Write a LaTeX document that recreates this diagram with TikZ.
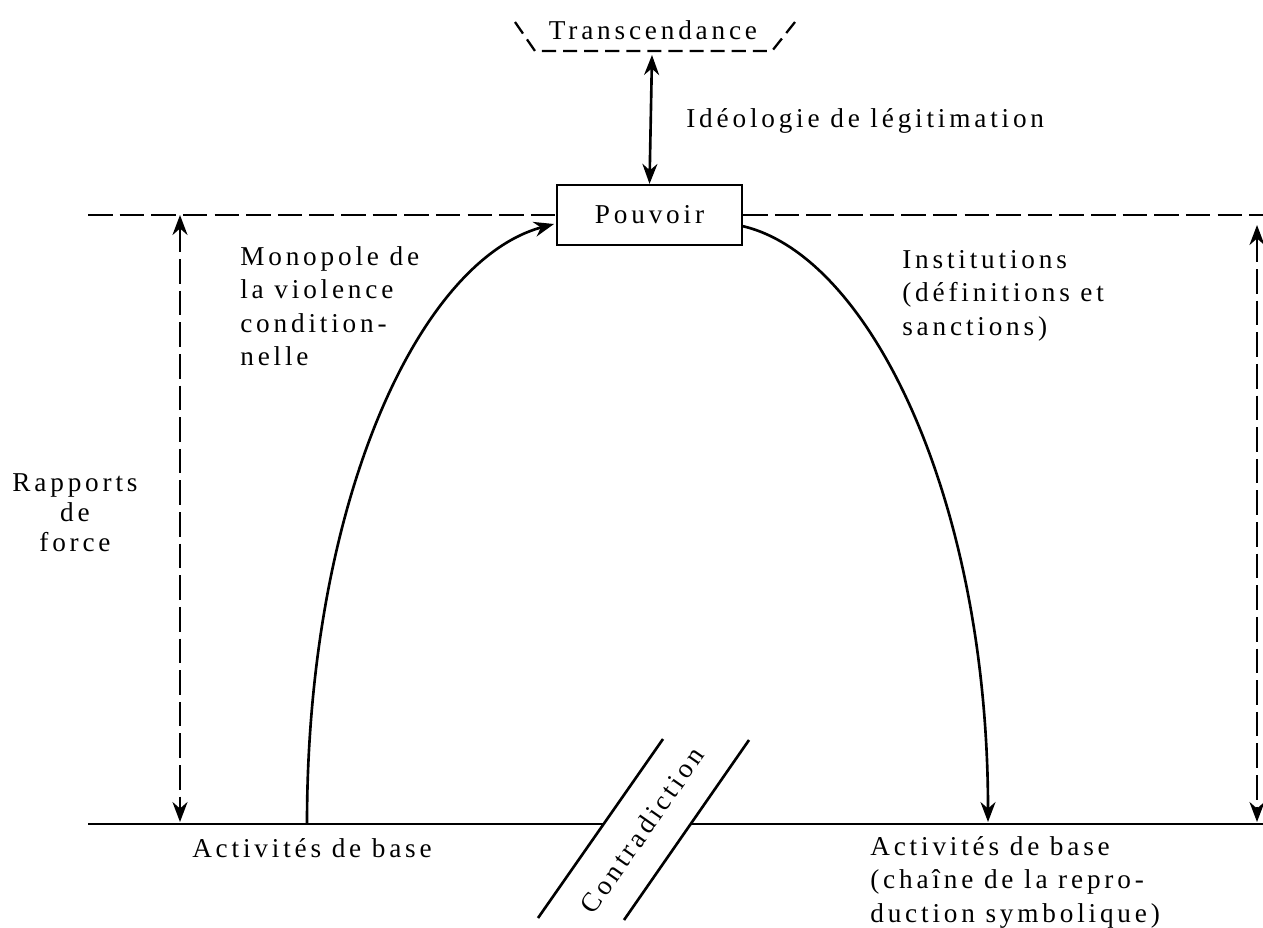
\documentclass[tikz,border=0pt]{standalone}
\usepackage{fontspec}
\setmainfont{Liberation Serif}[LetterSpace=14]
\usetikzlibrary{arrows.meta, positioning, calc}

\tikzset{
  lbl/.style={font=\fontsize{15.5}{19}\selectfont, inner sep=0pt},
  pbox/.style={draw, line width=1.3pt, minimum width=3.7cm, minimum height=1.2cm, inner sep=0pt},
  arr/.style={line width=1.5pt, -{Stealth[length=4mm,width=3mm]}},
  darr/.style={line width=1.5pt, {Stealth[length=4mm,width=3mm]}-{Stealth[length=4mm,width=3mm]}},
  dashline/.style={line width=1.3pt, dash pattern=on 14pt off 4pt},
}

\begin{document}
\begin{tikzpicture}[x=0.02cm, y=-0.02cm]

      \useasboundingbox (0,0) rectangle (1263,927);

      % sommet
      \node[lbl] (trans) at (653,30) {Transcendance};
      \draw[line width=1.3pt, dash pattern=on 8pt off 4pt] (515,22) -- (535,51) -- (772,51) -- (795,22);
      \coordinate (tb) at (652,55);

      \node[pbox, lbl] (pouvoir) at (649.5,215) {Pouvoir};
      \draw[darr] (tb) -- (pouvoir.north);
      \node[lbl, anchor=base west] (ideo) at (686,127) {Idéologie de légitimation};

      % niveaux
      \coordinate (dl) at (88,215);
      \coordinate (dr) at (1263,215);
      \draw[dashline] (dl) -- (pouvoir.west);
      \draw[dashline] (pouvoir.east) -- (dr);

      \coordinate (bl) at (88,824);
      \coordinate (br) at (1263,824);
      \coordinate (c1a) at (538,918);
      \coordinate (c1b) at (663,739);
      \coordinate (c2a) at (624,920);
      \coordinate (c2b) at (749,740);
      \coordinate (c1) at (604,824);
      \coordinate (c2) at (691,824);
      \draw[line width=1.3pt] (bl) -- (c1);
      \draw[line width=1.3pt] (c2) -- (br);
      \draw[line width=1.5pt] (c1a) -- (c1b);
      \draw[line width=1.5pt] (c2a) -- (c2b);
      \node[lbl, rotate=55] (contra) at (642,830) {Contradiction};

      % rapports de force
      \coordinate (ft) at (180,215);
      \coordinate (fb) at (180,822);
      \draw[dashline, darr] (ft) -- (fb);
      \coordinate (gt) at (1257,225);
      \coordinate (gb) at (1257,822);
      \draw[dashline, darr] (gt) -- (gb);
      \node[lbl, align=center, font=\fontsize{15.5}{17}\selectfont] (force) at (75,513) {Rapports\\de\\force};

      % les deux branches
      \coordinate (lb) at (307,824);
      \coordinate (pin) at (554,224);
      \draw[arr] (lb) .. controls (307,500) and (420,260) .. (pin);
      \coordinate (pout) at (742,226);
      \coordinate (rb) at (988,822);
      \draw[arr] (pout) .. controls (870,255) and (988,500) .. (rb);

      \node[lbl, align=left, anchor=north west] (mono) at (240,246) {Monopole de\\la violence\\condition-\\nelle};
      \node[lbl, align=left, anchor=north west] (inst) at (902,250) {Institutions\\(définitions et\\sanctions)};
      \node[lbl] (actl) at (312,848) {Activités de base};
      \node[lbl, align=left, anchor=north west] (actr) at (870,836) {Activités de base\\(chaîne de la repro-\\duction symbolique)};

    \end{tikzpicture}
\end{document}
